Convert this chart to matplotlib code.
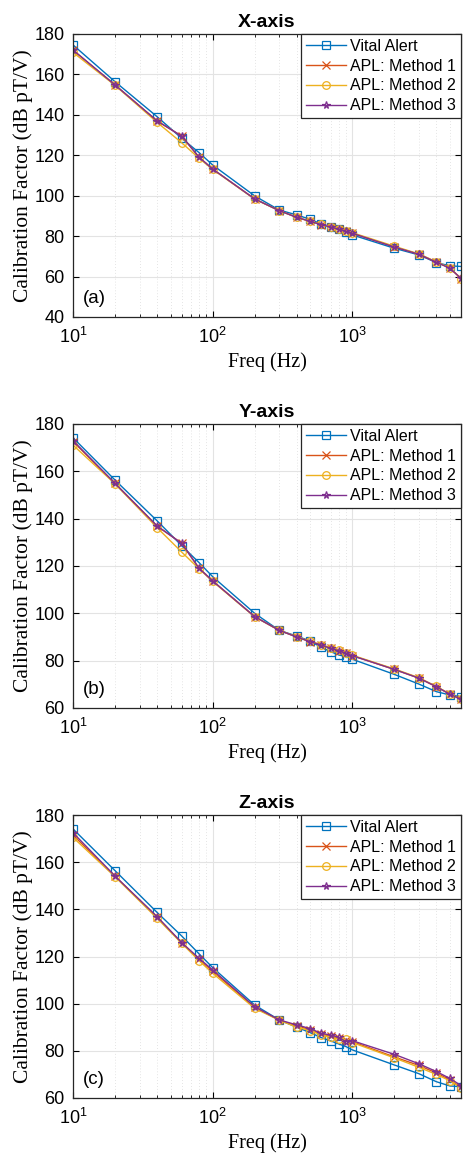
import numpy as np
import matplotlib
matplotlib.use("Agg")
import matplotlib.pyplot as plt
from matplotlib.ticker import LogLocator, LogFormatterMathtext, NullFormatter

plt.rcParams['font.family'] = ['Liberation Sans', 'DejaVu Sans']
plt.rcParams['mathtext.fontset'] = 'custom'
plt.rcParams['mathtext.rm'] = 'Liberation Sans'
plt.rcParams['mathtext.it'] = 'Liberation Sans:italic'
plt.rcParams['mathtext.bf'] = 'Liberation Sans:bold'

freq = [10, 20, 40, 60, 80, 100, 200, 300, 400, 500, 600, 700, 800, 900, 1000,
        2000, 3000, 4000, 5000, 6000]

# Panel (a) X-axis
x_vital = [174.6, 156.4, 139.1, 128.4, 121.3, 115.2, 99.9, 92.9, 90.5, 88.3, 86.0, 84.7,
           83.4, 82.2, 80.6, 74.0, 70.7, 66.9, 65.3, 65.0]
x_m1 = [172.0, 154.8, 137.0, 129.5, 119.0, 113.2, 98.4, 92.6, 89.3, 87.3, 85.7, 84.5,
        83.4, 82.4, 81.4, 74.7, 71.0, 67.1, 64.2, 59.0]
x_m2 = [170.9, 154.6, 136.3, 126.2, 118.5, 113.0, 98.3, 92.6, 89.3, 87.4, 85.8, 84.7,
        83.6, 82.7, 81.7, 75.0, 71.2, 67.3, 64.3, 59.0]
x_m3 = [172.1, 154.8, 137.0, 129.5, 119.0, 113.2, 98.4, 92.6, 89.3, 87.3, 85.7, 84.5,
        83.4, 82.4, 81.4, 74.6, 71.0, 67.1, 64.1, 59.1]

# Panel (b) Y-axis
y_vital = [174.2, 156.3, 139.1, 128.6, 121.4, 115.5, 100.0, 92.8, 90.4, 88.3, 85.6, 83.8,
           82.4, 81.7, 80.6, 74.2, 70.1, 66.9, 65.5, 64.8]
y_m1 = [172.6, 154.9, 136.9, 129.6, 119.0, 113.7, 98.6, 92.8, 90.0, 88.0, 86.6, 85.2,
        84.2, 83.1, 82.1, 76.3, 72.6, 69.0, 65.8, 63.7]
y_m2 = [171.1, 154.7, 136.2, 125.9, 118.8, 113.5, 98.5, 92.8, 90.1, 88.1, 86.8, 85.4,
        84.4, 83.3, 82.3, 76.5, 72.8, 69.1, 65.9, 63.6]
y_m3 = [173.0, 154.9, 136.9, 129.6, 119.0, 113.7, 98.6, 92.8, 90.0, 88.0, 86.6, 85.2,
        84.2, 83.1, 82.1, 76.3, 72.6, 69.0, 65.8, 63.7]

# Panel (c) Z-axis
z_vital = [174.1, 156.4, 138.7, 128.7, 121.1, 115.3, 99.4, 93.1, 90.0, 87.7, 85.6, 84.2,
           82.9, 81.8, 80.4, 74.0, 70.3, 66.9, 65.1, 64.8]
z_m1 = [171.5, 154.0, 136.7, 125.8, 118.8, 113.7, 98.4, 93.0, 90.5, 89.0, 87.0, 86.2,
        85.3, 84.4, 83.9, 77.4, 73.8, 70.6, 67.7, 64.5]
z_m2 = [170.5, 153.8, 136.2, 125.6, 118.2, 112.9, 98.0, 93.0, 90.0, 88.6, 86.7, 85.8,
        84.9, 84.9, 83.5, 77.0, 73.0, 70.0, 67.3, 64.3]
z_m3 = [172.5, 154.1, 136.9, 125.9, 119.2, 114.3, 98.7, 93.1, 91.0, 89.4, 87.4, 86.7,
        85.7, 83.9, 84.3, 78.5, 74.5, 71.2, 68.3, 65.3]

titles = ['X-axis', 'Y-axis', 'Z-axis']
tags = ['(a)', '(b)', '(c)']
ylims = [(40, 180), (60, 180), (60, 180)]
labels = ['Vital Alert', 'APL: Method 1', 'APL: Method 2', 'APL: Method 3']
colors = ['#0072BD', '#D95319', '#EDB120', '#7E2F8E']
markers = ['s', 'x', 'o', '*']
data = [(x_vital, x_m1, x_m2, x_m3), (y_vital, y_m1, y_m2, y_m3), (z_vital, z_m1, z_m2, z_m3)]

W, H = 463, 1161
fig = plt.figure(figsize=(W / 100, H / 100), dpi=100)
tops = [34, 424, 815]
bots = [317, 708, 1098]
left, right = 73, 461

serif = ['Liberation Serif', 'DejaVu Serif']

for i in range(3):
    ax = fig.add_axes([left / W, 1 - bots[i] / H, (right - left) / W, (bots[i] - tops[i]) / H])
    for s, lab, c, m in zip(data[i], labels, colors, markers):
        ax.plot(freq, s, color=c, marker=m, markersize=5.5, linewidth=1,
                markerfacecolor='none', markeredgewidth=0.9, label=lab)
    ax.set_xscale('log')
    ax.set_xlim(10, 6000)
    ax.set_ylim(*ylims[i])
    ax.set_yticks(np.arange(ylims[i][0], 181, 20))
    ax.xaxis.set_major_locator(LogLocator(base=10, numticks=10))
    ax.xaxis.set_major_formatter(LogFormatterMathtext())
    ax.xaxis.set_minor_locator(LogLocator(base=10, subs=np.arange(2, 10), numticks=20))
    ax.xaxis.set_minor_formatter(NullFormatter())
    ax.grid(True, which='major', color='#e3e3e3', linewidth=0.8, linestyle='-')
    ax.grid(True, which='minor', color='#dcdcdc', linewidth=0.6, linestyle=(0, (1, 2.5)))
    ax.set_axisbelow(True)
    ax.tick_params(which='both', direction='in', top=True, right=True, labelsize=13)
    ax.tick_params(axis='y', pad=6)
    ax.tick_params(axis='x', pad=7)
    ax.tick_params(which='major', length=4)
    ax.tick_params(which='minor', length=2.5)
    for sp in ax.spines.values():
        sp.set_linewidth(0.9)
        sp.set_color('#262626')
    ax.set_title(titles[i], fontsize=14, fontweight='bold', pad=5)
    ax.set_ylabel('Calibration Factor (dB pT/V)', fontsize=15.5, family=serif, labelpad=1)
    ax.set_xlabel('Freq (Hz)', fontsize=14.5, family=serif, labelpad=4)
    ax.text(0.025, 0.035, tags[i], transform=ax.transAxes, fontsize=13.5, ha='left', va='bottom')
    leg = ax.legend(loc='upper right', fontsize=11.5, frameon=True, fancybox=False,
                    edgecolor='#262626', framealpha=1, borderaxespad=0,
                    handlelength=2.5, labelspacing=0.3, borderpad=0.3, handletextpad=0.3)
    leg.get_frame().set_linewidth(0.9)

fig.savefig('out.png', dpi=100)
